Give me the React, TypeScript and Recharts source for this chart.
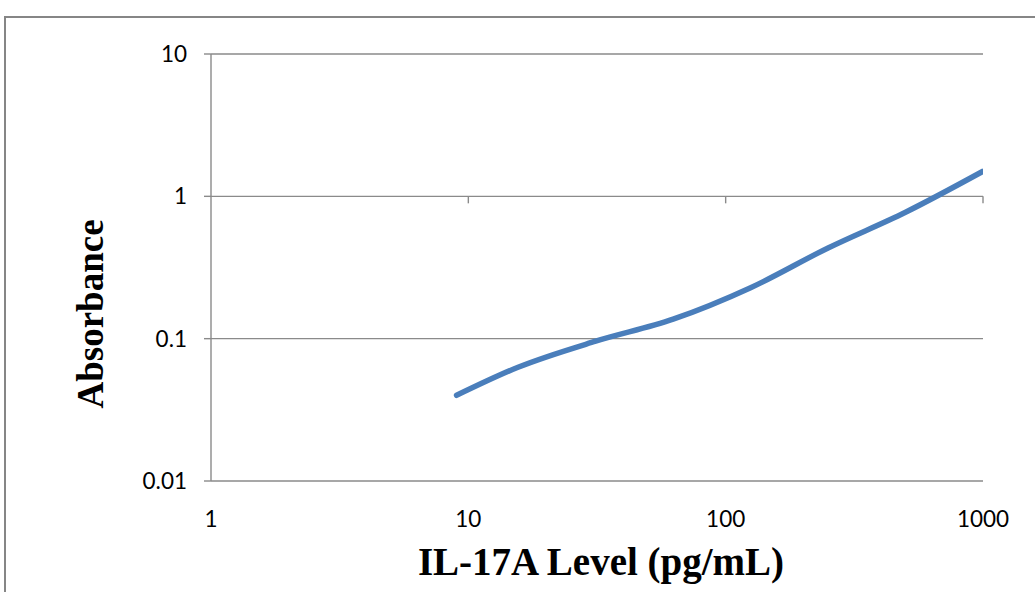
import React from 'react';
import {
  LineChart,
  Line,
  XAxis,
  YAxis,
  CartesianGrid,
  ReferenceLine,
} from 'recharts';

const concentrations = [9, 15.6, 31.25, 62.5, 125, 250, 500, 1000];
const absorbance = [0.04, 0.063, 0.096, 0.137, 0.228, 0.434, 0.773, 1.5];
const xTicks = [1, 10, 100, 1000];
const yTicks = [0.01, 0.1, 1, 10];
const xTitle = 'IL-17A Level (pg/mL)';
const yTitle = 'Absorbance';

const data = concentrations.map((c, i) => ({ x: c, y: absorbance[i] }));

const GRID = '#8a8a8a';
const FONT = 'Lato, "Open Sans", sans-serif';
const TICK_SIZE = 22.5;

const XTick = (props: any) => {
  const { x, y, payload } = props;
  return (
    <text x={x} y={y} textAnchor="middle" dy="0.71em" fontFamily={FONT} fontSize={TICK_SIZE} fill="#000">
      {String(payload.value)}
    </text>
  );
};

const YTick = (props: any) => {
  const { x, y, payload } = props;
  return (
    <text x={x} y={y} textAnchor="end" dy="0.355em" fontFamily={FONT} fontSize={TICK_SIZE} fill="#000">
      {String(payload.value)}
    </text>
  );
};

export default function App() {
  return (
    <div
      style={{
        position: 'absolute',
        left: 0,
        top: 0,
        width: 1035,
        height: 592,
        overflow: 'hidden',
        background: '#fff',
      }}
    >
      <div
        style={{
          position: 'absolute',
          left: 4,
          top: 16,
          width: 1100,
          height: 700,
          borderLeft: '2px solid #868686',
          borderTop: '2px solid #868686',
          boxSizing: 'border-box',
        }}
      />
      <div style={{ position: 'absolute', left: 0, top: 0 }}>
        <LineChart
          width={1035}
          height={592}
          data={data}
          margin={{ top: 54, right: 52, left: 151, bottom: 51 }}
          style={{ background: 'transparent' }}
        >
          <CartesianGrid vertical={false} stroke={GRID} strokeWidth={1.4} />
          <XAxis
            dataKey="x"
            type="number"
            scale="log"
            domain={[1, 1000]}
            ticks={xTicks}
            axisLine={false}
            tickLine={false}
            tickSize={0}
            tickMargin={30}
            height={60}
            tick={XTick}
            allowDataOverflow
          />
          <YAxis
            type="number"
            scale="log"
            domain={[0.01, 10]}
            ticks={yTicks}
            width={60}
            axisLine={{ stroke: GRID, strokeWidth: 1.4 }}
            tickLine={{ stroke: GRID, strokeWidth: 1.4 }}
            tickSize={7}
            tickMargin={17}
            tick={YTick}
            allowDataOverflow
          />
          {xTicks.slice(1).map((t) => (
            <ReferenceLine
              key={t}
              segment={[
                { x: t, y: 1 },
                { x: t, y: 0.893 },
              ]}
              stroke={GRID}
              strokeWidth={1.4}
            />
          ))}
          <Line
            type="monotone"
            dataKey="y"
            stroke="#4a7ebb"
            strokeWidth={5.5}
            dot={false}
            strokeLinecap="round"
            isAnimationActive={false}
          />
        </LineChart>
      </div>
      <div
        style={{
          position: 'absolute',
          left: 601 - 300,
          width: 600,
          top: 539,
          textAlign: 'center',
          fontFamily: '"Liberation Serif", "Times New Roman", serif',
          fontWeight: 'bold',
          fontSize: 39,
          lineHeight: '46px',
          color: '#000',
        }}
      >
        {xTitle}
      </div>
      <div
        style={{
          position: 'absolute',
          left: 91 - 150,
          top: 314 - 22,
          width: 300,
          height: 44,
          textAlign: 'center',
          transform: 'rotate(-90deg)',
          fontFamily: '"Liberation Serif", "Times New Roman", serif',
          fontWeight: 'bold',
          fontSize: 37,
          lineHeight: '44px',
          color: '#000',
        }}
      >
        {yTitle}
      </div>
    </div>
  );
}
